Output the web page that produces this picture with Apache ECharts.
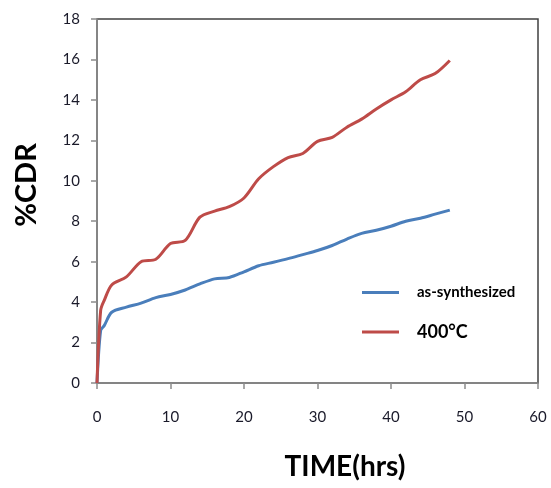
<!DOCTYPE html>
<html>
<head>
<meta charset="utf-8">
<script src="https://cdn.jsdelivr.net/npm/echarts@6/dist/echarts.min.js"></script>
<style>html,body{margin:0;padding:0;background:#fff}#c{width:551px;height:488px}</style>
</head>
<body>
<div id="c"></div>
<script>
const timeHrs = [0, 0.5, 1, 2, 4, 6, 8, 10, 12, 14, 16, 18, 20, 22, 24, 26, 28, 30, 32, 34, 36, 38, 40, 42, 44, 46, 48];
const asSynthesized = [0, 2.6, 2.85, 3.5, 3.75, 3.95, 4.22, 4.38, 4.6, 4.9, 5.15, 5.22, 5.5, 5.8, 5.97, 6.15, 6.35, 6.55, 6.8, 7.12, 7.4, 7.55, 7.75, 8.0, 8.15, 8.35, 8.55];
const c400 = [0, 3.6, 4.1, 4.85, 5.25, 6.0, 6.12, 6.9, 7.05, 8.2, 8.5, 8.72, 9.15, 10.1, 10.7, 11.15, 11.35, 11.95, 12.15, 12.65, 13.05, 13.55, 14.0, 14.4, 15.0, 15.3, 15.95];
const seriesNames = ['as-synthesized', '400°C'];
const xTitle = 'TIME(hrs)';
const yTitle = '%CDR';

const pair = (ys) => timeHrs.map((t, i) => [t, ys[i]]);
const chart = echarts.init(document.getElementById('c'));
const labelFont = { fontFamily: 'Lato, sans-serif', fontSize: 15, color: '#1a1a2a' };
chart.setOption({
  animation: false,
  backgroundColor: '#fff',
  grid: { left: 97, right: 13, top: 19, bottom: 105, show: true, borderColor: '#404040', borderWidth: 1.5, backgroundColor: 'transparent' },
  legend: {
    orient: 'vertical', left: 357, top: 280, itemGap: 23,
    icon: 'rect', itemWidth: 37, itemHeight: 3, itemStyle: { borderWidth: 0 },
    data: [
      { name: seriesNames[0], textStyle: { fontFamily: 'Lato, sans-serif', fontSize: 15, fontWeight: 'bold', color: '#000', padding: [0, 0, 0, 13] } },
      { name: seriesNames[1], textStyle: { fontFamily: 'Lato, sans-serif', fontSize: 18, fontWeight: 'bold', color: '#000', padding: [0, 0, 0, 13] } }
    ]
  },
  graphic: [
    { type: 'text', x: 345, y: 467, style: { text: xTitle, fontFamily: 'Lato, sans-serif', fontSize: 28, fontWeight: 'bold', fill: '#000', align: 'center', verticalAlign: 'middle' } },
    { type: 'text', x: 27, y: 185, rotation: Math.PI / 2, style: { text: yTitle, fontFamily: 'Lato, sans-serif', fontSize: 29, fontWeight: 'bold', fill: '#000', align: 'center', verticalAlign: 'middle' } }
  ],
  xAxis: {
    type: 'value', min: 0, max: 60, interval: 10,
    axisLine: { show: true, lineStyle: { color: '#8c8c8c', width: 1.5 } },
    axisTick: { show: true, length: 6, lineStyle: { color: '#8c8c8c', width: 1.5 } },
    axisLabel: Object.assign({ margin: 27 }, labelFont),
    splitLine: { show: false }
  },
  yAxis: {
    type: 'value', min: 0, max: 18, interval: 2,
    axisLine: { show: true, lineStyle: { color: '#8c8c8c', width: 1.5 } },
    axisTick: { show: true, length: 6, lineStyle: { color: '#8c8c8c', width: 1.5 } },
    axisLabel: Object.assign({ margin: 17 }, labelFont),
    splitLine: { show: false }
  },
  series: [
    { name: seriesNames[0], type: 'line', data: pair(asSynthesized), smooth: 0.3, showSymbol: false, symbol: 'none', color: '#4a7ebb', lineStyle: { width: 3, color: '#4a7ebb' } },
    { name: seriesNames[1], type: 'line', data: pair(c400), smooth: 0.3, showSymbol: false, symbol: 'none', color: '#be4b48', lineStyle: { width: 3, color: '#be4b48' } }
  ]
});
</script>
</body>
</html>
